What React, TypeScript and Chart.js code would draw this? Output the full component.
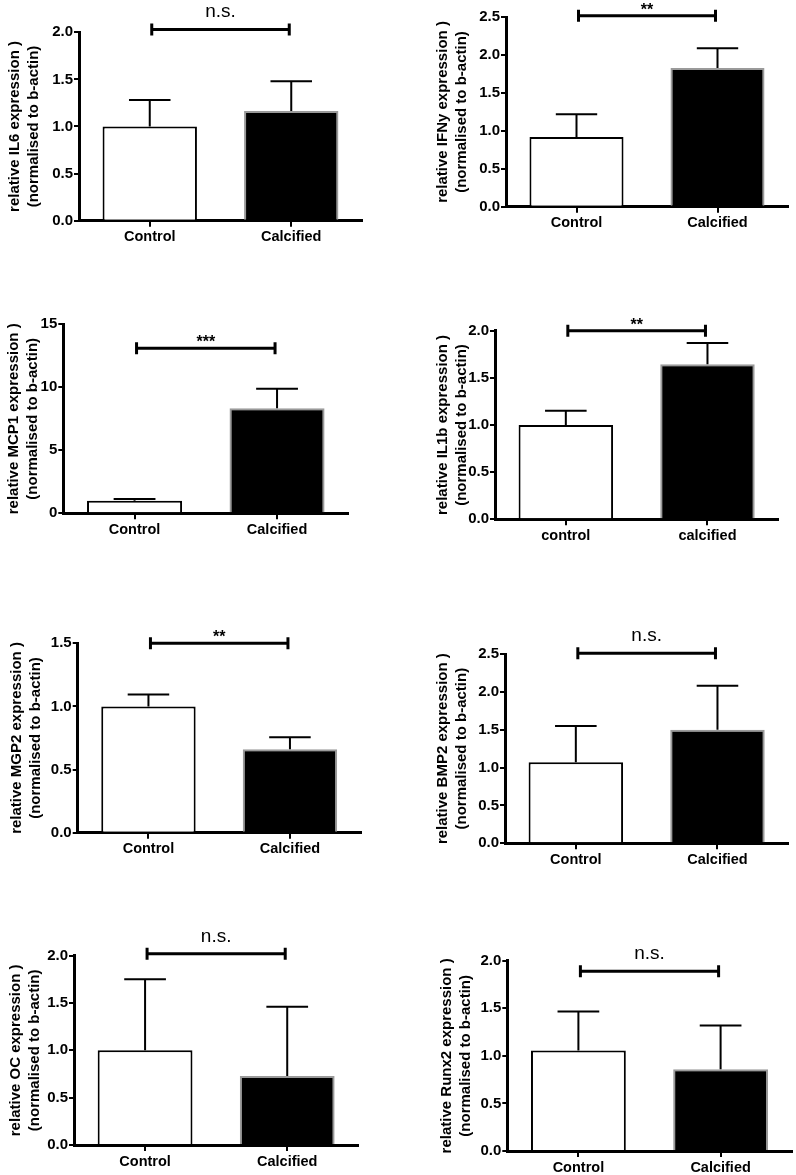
import React, { useEffect, useRef } from "react";
import { Chart, registerables } from "chart.js";

Chart.register(...registerables);
Chart.defaults.font.family = "'Liberation Sans', Arial, Helvetica, sans-serif";
Chart.defaults.color = "#000";

// ---------------- data ----------------
const categoriesUpper = ["Control", "Calcified"];
const categoriesLower = ["control", "calcified"];
const genes = ["IL6", "IFNy", "MCP1", "IL1b", "MGP2", "BMP2", "OC", "Runx2"];
const controlMeans = [1.0, 0.92, 1.0, 1.0, 1.0, 1.07, 1.0, 1.055];
const calcifiedMeans = [1.165, 1.83, 8.33, 1.645, 0.66, 1.5, 0.73, 0.86];
const controlErrors = [0.28, 0.3, 0.13, 0.15, 0.095, 0.48, 0.75, 0.41];
const calcifiedErrors = [0.315, 0.26, 1.56, 0.225, 0.095, 0.58, 0.73, 0.46];
const yMax = [2, 2.5, 15, 2, 1.5, 2.5, 2, 2];
const yStep = [0.5, 0.5, 5, 0.5, 0.5, 0.5, 0.5, 0.5];
const tickDecimals = [1, 1, 0, 1, 1, 1, 1, 1];
const significance = ["n.s.", "**", "***", "**", "**", "n.s.", "n.s.", "n.s."];
const bracketLevels = [2.03, 2.52, 13.1, 2.0, 1.5, 2.51, 2.02, 1.89];
const lowercaseLabelPanels = [3];

// ---------------- layout ----------------
type PanelLayout = {
  left: number;
  top: number;
  width: number;
  height: number;
  axisX: number;
  axisTop: number;
  axisBottom: number;
  axisRight: number;
  titleX: number;
};

const layouts: PanelLayout[] = [
  { left: 0, top: 0, width: 400, height: 290, axisX: 79, axisTop: 32.3, axisBottom: 220.7, axisRight: 362, titleX: 15 },
  { left: 400, top: 0, width: 396, height: 290, axisX: 506, axisTop: 17.3, axisBottom: 206.7, axisRight: 788, titleX: 443 },
  { left: 0, top: 290, width: 400, height: 270, axisX: 63.3, axisTop: 324.3, axisBottom: 513.3, axisRight: 348.3, titleX: 14 },
  { left: 400, top: 290, width: 396, height: 270, axisX: 495, axisTop: 330.7, axisBottom: 519.3, axisRight: 778.3, titleX: 443.3 },
  { left: 0, top: 560, width: 400, height: 310, axisX: 77.7, axisTop: 643.3, axisBottom: 832.7, axisRight: 360.7, titleX: 17 },
  { left: 400, top: 560, width: 396, height: 310, axisX: 505, axisTop: 654, axisBottom: 843.3, axisRight: 788.3, titleX: 442.7 },
  { left: 0, top: 870, width: 400, height: 305, axisX: 74, axisTop: 955.7, axisBottom: 1145, axisRight: 358.3, titleX: 16 },
  { left: 400, top: 870, width: 396, height: 305, axisX: 507.3, axisTop: 960.7, axisBottom: 1151, axisRight: 791.7, titleX: 446.7 },
];

const FONT = "'Liberation Sans', Arial, Helvetica, sans-serif";
const TITLE_SIZE = 15;
const TITLE_LH = 1.25;

function makeErrorBarPlugin(index: number) {
  return {
    id: "errorBars" + index,
    afterDatasetsDraw(chart: any) {
      const { ctx } = chart;
      const meta = chart.getDatasetMeta(0);
      const y = chart.scales.y;
      const means = [controlMeans[index], calcifiedMeans[index]];
      const errs = [controlErrors[index], calcifiedErrors[index]];
      ctx.save();
      ctx.strokeStyle = "#000";
      ctx.lineWidth = 2;
      meta.data.forEach((bar: any, i: number) => {
        const x = bar.x;
        const yTop = y.getPixelForValue(means[i] + errs[i]);
        const half = bar.width * 0.22;
        ctx.beginPath();
        ctx.moveTo(x, bar.y);
        ctx.lineTo(x, yTop);
        ctx.moveTo(x - half, yTop);
        ctx.lineTo(x + half, yTop);
        ctx.stroke();
      });
      ctx.restore();
    },
  };
}

function makeBracketPlugin(index: number) {
  return {
    id: "sigBracket" + index,
    afterDraw(chart: any) {
      const { ctx } = chart;
      const xs = chart.scales.x;
      const ys = chart.scales.y;
      const x0 = xs.getPixelForValue(0) + 2;
      const x1 = xs.getPixelForValue(1) - 2;
      const yb = ys.getPixelForValue(bracketLevels[index]);
      ctx.save();
      ctx.strokeStyle = "#000";
      ctx.lineWidth = 3;
      ctx.beginPath();
      ctx.moveTo(x0, yb);
      ctx.lineTo(x1, yb);
      ctx.moveTo(x0, yb - 6);
      ctx.lineTo(x0, yb + 6);
      ctx.moveTo(x1, yb - 6);
      ctx.lineTo(x1, yb + 6);
      ctx.stroke();
      const label = significance[index];
      ctx.fillStyle = "#000";
      ctx.textAlign = "center";
      ctx.textBaseline = "alphabetic";
      if (label === "n.s.") {
        ctx.font = `19px ${FONT}`;
        ctx.fillText(label, (x0 + x1) / 2, yb - 12);
      } else {
        ctx.font = `bold 16px ${FONT}`;
        ctx.fillText(label, (x0 + x1) / 2, yb - 1);
      }
      ctx.restore();
    },
  };
}

function Panel({ index }: { index: number }) {
  const ref = useRef<HTMLCanvasElement | null>(null);
  const L = layouts[index];
  useEffect(() => {
    const canvas = ref.current;
    if (!canvas) return;
    const labels = lowercaseLabelPanels.includes(index) ? categoriesLower : categoriesUpper;
    const chart = new Chart(canvas, {
      type: "bar",
      data: {
        labels,
        datasets: [
          {
            data: [controlMeans[index], calcifiedMeans[index]],
            backgroundColor: ["#ffffff", "#000000"],
            borderColor: ["#000000", "#9a9a9a"],
            borderWidth: 2,
            barPercentage: 0.667,
            categoryPercentage: 1,
          },
        ],
      },
      options: {
        responsive: false,
        animation: false,
        devicePixelRatio: 1,
        layout: {
          padding: {
            left: 0,
            top: L.axisTop - L.top,
            right: L.left + L.width - L.axisRight,
            bottom: 0,
          },
        },
        plugins: {
          legend: { display: false },
          tooltip: { enabled: false },
        },
        scales: {
          x: {
            offset: true,
            grid: {
              offset: false,
              drawOnChartArea: false,
              drawTicks: true,
              tickLength: 6,
              color: "#000",
              lineWidth: 2,
            },
            border: { display: true, color: "#000", width: 3 },
            ticks: {
              font: { size: 14.5, weight: "bold", family: FONT },
              color: "#000",
              padding: 2,
            },
            afterFit: (s: any) => {
              s.height = L.top + L.height - L.axisBottom;
            },
          },
          y: {
            min: 0,
            max: yMax[index],
            ticks: {
              stepSize: yStep[index],
              callback: (v: any) => Number(v).toFixed(tickDecimals[index]),
              font: { size: 15, weight: "bold", family: FONT },
              color: "#000",
              padding: 1,
            },
            grid: {
              drawOnChartArea: false,
              drawTicks: true,
              tickLength: 5,
              color: "#000",
              lineWidth: 2,
            },
            border: { display: true, color: "#000", width: 3 },
            title: {
              display: true,
              text: [`relative ${genes[index]} expression )`, "(normalised to b-actin)"],
              font: { size: TITLE_SIZE, weight: "bold", family: FONT, lineHeight: TITLE_LH },
              color: "#000",
              padding: { top: L.titleX - L.left - (TITLE_SIZE * TITLE_LH) / 2, bottom: 0 },
            },
            afterFit: (s: any) => {
              s.width = L.axisX - L.left;
            },
          },
        },
      } as any,
      plugins: [makeErrorBarPlugin(index), makeBracketPlugin(index)],
    });
    return () => chart.destroy();
  }, [index]);
  return (
    <canvas
      ref={ref}
      width={L.width}
      height={L.height}
      style={{ position: "absolute", left: L.left, top: L.top, width: L.width, height: L.height }}
    />
  );
}

export default function App() {
  return (
    <div style={{ position: "absolute", left: 0, top: 0, width: 796, height: 1175, background: "#fff" }}>
      {genes.map((g, i) => (
        <Panel key={g} index={i} />
      ))}
    </div>
  );
}
